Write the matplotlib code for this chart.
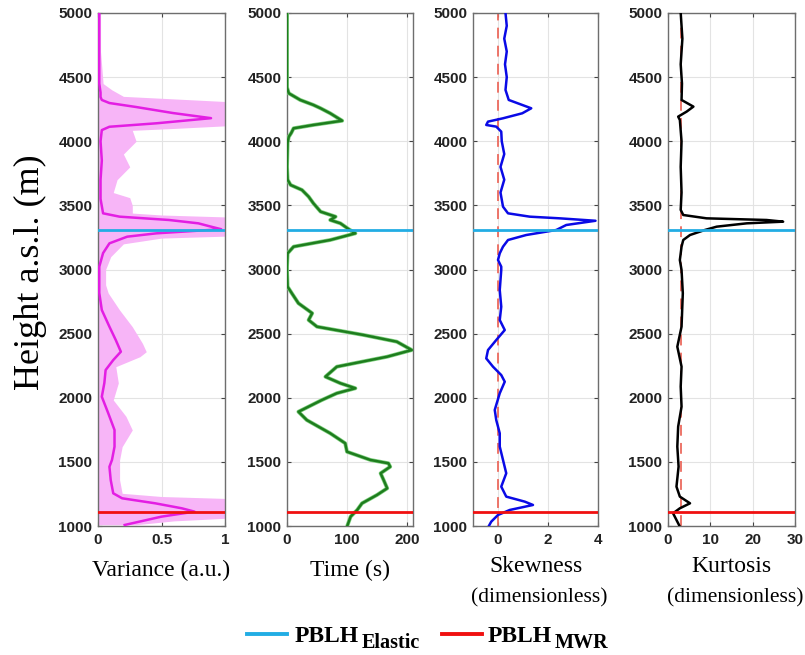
import matplotlib
matplotlib.use("Agg")
import matplotlib.pyplot as plt
from matplotlib.lines import Line2D

# ---------------- data ----------------
pblh_elastic = 3310
pblh_mwr = 1110

var_h = [5000, 4800, 4600, 4450, 4380, 4345, 4322, 4298, 4267, 4220, 4180, 4140, 4113, 4087, 4000,
         3850, 3700, 3550, 3438, 3412, 3386, 3360, 3334, 3314, 3282, 3256, 3204, 3128, 3022, 2900,
         2817, 2684, 2554, 2450, 2359, 2294, 2216, 2115, 2008, 1881, 1749, 1618, 1515, 1462, 1359,
         1255, 1216, 1177, 1138, 1112, 1073, 1008]
var_v = [0.01, 0.01, 0.01, 0.01, 0.02, 0.02, 0.03, 0.09, 0.30, 0.59, 0.89, 0.46, 0.09, 0.03, 0.02,
         0.03, 0.02, 0.02, 0.04, 0.17, 0.56, 0.79, 0.89, 0.97, 0.46, 0.23, 0.09, 0.04, 0.01, 0.01,
         0.01, 0.03, 0.09, 0.14, 0.18, 0.12, 0.06, 0.05, 0.03, 0.08, 0.13, 0.13, 0.11, 0.09, 0.10,
         0.12, 0.19, 0.45, 0.66, 0.76, 0.50, 0.21]

band_h = [5000, 4700, 4450, 4400, 4350, 4330, 4310, 4120, 4100, 4085, 4000, 3900, 3800, 3700, 3600,
          3560, 3500, 3440, 3425, 3410, 3260, 3245, 3200, 3100, 3000, 2880, 2817, 2684, 2554, 2424,
          2359, 2320, 2242, 2115, 1983, 1855, 1749, 1618, 1515, 1360, 1255, 1230, 1215, 1060, 1040, 1010]
band_u = [0.02, 0.02, 0.04, 0.11, 0.20, 0.60, 1.00, 1.00, 0.60, 0.27, 0.30, 0.20, 0.25, 0.15, 0.12,
          0.25, 0.27, 0.27, 0.50, 1.00, 1.00, 0.50, 0.20, 0.10, 0.06, 0.06, 0.08, 0.17, 0.27, 0.35,
          0.38, 0.33, 0.14, 0.16, 0.12, 0.22, 0.27, 0.19, 0.17, 0.17, 0.19, 0.50, 1.00, 1.00, 0.60, 0.30]

time_h = [5000, 4420, 4374, 4322, 4283, 4257, 4218, 4160, 4127, 4101, 4064, 4035, 3990, 3800, 3700,
          3659, 3620, 3568, 3516, 3451, 3412, 3386, 3360, 3314, 3282, 3230, 3178, 3126, 3022, 2996,
          2866, 2815, 2737, 2659, 2606, 2554, 2489, 2437, 2372, 2320, 2242, 2164, 2113, 2074, 2035,
          1982, 1891, 1826, 1723, 1645, 1579, 1515, 1489, 1462, 1411, 1359, 1294, 1242, 1177, 1125,
          1073, 995]
time_v = [0, 0, 3, 22, 44, 56, 72, 92, 44, 11, 7, 3, 1, 0, 1,
          6, 25, 36, 44, 56, 81, 72, 89, 103, 114, 72, 11, 1, 0, 0,
          1, 8, 19, 42, 36, 50, 128, 183, 208, 167, 83, 64, 89, 114, 83,
          58, 19, 33, 72, 97, 100, 139, 169, 172, 156, 161, 167, 150, 125, 117,
          106, 100]

skew_h = [5000, 4900, 4800, 4700, 4600, 4500, 4400, 4322, 4283, 4257, 4218, 4179, 4153, 4127, 4114,
          4075, 4000, 3900, 3800, 3700, 3600, 3490, 3438, 3412, 3399, 3380, 3347, 3308, 3269, 3230,
          3178, 3126, 3074, 3022, 2996, 2840, 2710, 2606, 2528, 2450, 2372, 2307, 2242, 2177, 2125,
          2035, 1905, 1826, 1723, 1619, 1515, 1411, 1307, 1229, 1190, 1164, 1125, 1086, 1034, 995]
skew_v = [0.30, 0.35, 0.25, 0.35, 0.28, 0.35, 0.30, 0.43, 0.97, 1.33, 0.97, 0.20, -0.40, -0.47, -0.07,
          0.13, 0.15, 0.25, 0.10, 0.25, 0.10, 0.20, 0.40, 1.27, 2.47, 3.90, 2.73, 2.33, 1.13, 0.40,
          0.20, 0.07, 0.00, 0.13, 0.13, 0.07, 0.13, 0.07, 0.27, -0.07, -0.40, -0.47, -0.20, 0.13, 0.27,
          0.07, -0.13, -0.07, 0.07, 0.07, 0.20, 0.33, 0.13, 0.33, 1.07, 1.40, 0.47, 0.00, -0.27, -0.38]

kurt_h = [5000, 4800, 4600, 4450, 4322, 4270, 4231, 4192, 4166, 4000, 3800, 3600, 3465, 3425, 3399,
          3386, 3373, 3360, 3334, 3308, 3269, 3230, 3178, 3074, 2996, 2815, 2554, 2398, 2243, 2087,
          1930, 1775, 1619, 1463, 1307, 1229, 1177, 1138, 1099, 1047, 995]
kurt_v = [3.0, 3.4, 3.0, 3.3, 3.2, 6.0, 4.4, 2.4, 2.8, 3.2, 3.0, 3.2, 3.0, 3.6, 9.1,
          23.3, 27.2, 18.6, 11.5, 8.7, 5.2, 3.6, 3.2, 2.8, 3.2, 3.5, 3.2, 2.2, 3.2, 3.0,
          3.2, 2.4, 2.2, 2.5, 2.0, 2.8, 5.2, 2.8, 1.2, 2.0, 2.8]

xlabels = ["Variance (a.u.)", "Time (s)", "Skewness", "Kurtosis"]
xsublabels = [None, None, "(dimensionless)", "(dimensionless)"]
xlims = [(0, 1), (0, 210), (-1, 4), (0, 30)]
xticks = [[0, 0.5, 1], [0, 100, 200], [0, 2, 4], [0, 10, 20, 30]]
xticklabels = [["0", "0.5", "1"], ["0", "100", "200"], ["0", "2", "4"], ["0", "10", "20", "30"]]
yticks = [1000, 1500, 2000, 2500, 3000, 3500, 4000, 4500, 5000]
ref_lines = [None, 0, 0, 3]
legend_main = ["PBLH", "PBLH"]
legend_sub = ["Elastic", "MWR"]

# ---------------- layout / style ----------------
W, H = 805, 655
fig = plt.figure(figsize=(W / 100, H / 100), dpi=100)
lefts = [98, 287, 473, 668]
rights = [225, 413, 598, 795]
top_px, bot_px = 13, 526


def fx(px):
    return px / W


def fy(py):
    return (H - py) / H


c_cyan = '#22ade4'
c_red = '#f01010'
colors = ['#e31ee3', '#1e7d1e', '#0a0ae6', '#000000']
series = [(var_v, var_h), (time_v, time_h), (skew_v, skew_h), (kurt_v, kurt_h)]
serif = 'Liberation Serif'

axes = []
for i in range(4):
    ax = fig.add_axes([fx(lefts[i]), fy(bot_px), (rights[i] - lefts[i]) / W, (bot_px - top_px) / H])
    axes.append(ax)
    ax.set_xlim(*xlims[i])
    ax.set_ylim(1000, 5000)
    ax.set_yticks(yticks)
    ax.set_yticklabels([str(t) for t in yticks])
    ax.set_xticks(xticks[i])
    ax.set_xticklabels(xticklabels[i])
    ax.grid(True, color='#e3e3e3', linewidth=0.8)
    ax.set_axisbelow(True)
    ax.tick_params(direction='in', length=3, width=0.8, color='#444444',
                   top=True, right=True, labelsize=11, pad=4)
    ax.tick_params(axis='x', pad=5)
    for lab in ax.get_xticklabels() + ax.get_yticklabels():
        lab.set_fontfamily('Liberation Sans')
        lab.set_fontweight('bold')
        lab.set_color('#222222')
    for sp in ax.spines.values():
        sp.set_color('#6e6e6e')
        sp.set_linewidth(1.0)

    if i == 0:
        ax.fill_betweenx(band_h, 0, band_u, color='#f7b5f7', linewidth=0, zorder=1)
    if ref_lines[i] is not None:
        ax.axvline(ref_lines[i], color='#ec6a5e', linestyle=(0, (6, 4)), linewidth=1.3, zorder=2)
    xv, yv = series[i]
    if i == 1:
        ax.plot(xv, yv, color='#7fd07f', linewidth=2.8, zorder=3, solid_joinstyle='round')
    ax.plot(xv, yv, color=colors[i], linewidth=1.8, zorder=4, solid_joinstyle='round')
    ax.axhline(pblh_elastic, color=c_cyan, linewidth=2.0, zorder=5)
    ax.axhline(pblh_mwr, color=c_red, linewidth=2.0, zorder=5)

    cx = (lefts[i] + rights[i]) / 2
    if xsublabels[i] is None:
        fig.text(fx(cx), fy(570), xlabels[i], fontfamily=serif, fontsize=17, ha='center', va='center')
    else:
        fig.text(fx(cx), fy(567), xlabels[i], fontfamily=serif, fontsize=17, ha='center', va='center')
        fig.text(fx(cx + 4), fy(598), xsublabels[i], fontfamily=serif, fontsize=15.5,
                 ha='center', va='center')

fig.text(fx(30), fy(272), "Height a.s.l. (m)", fontfamily=serif, fontsize=26,
         rotation=90, ha='center', va='center')

# legend (drawn manually to reproduce the large subscripts)
leg_colors = [c_cyan, c_red]
line_x = [(247, 287), (442, 482)]
main_x = [295, 488]
sub_x = [362, 555]
for k in range(2):
    fig.add_artist(Line2D([fx(line_x[k][0]), fx(line_x[k][1])], [fy(634), fy(634)],
                          color=leg_colors[k], linewidth=2.8, transform=fig.transFigure))
    fig.text(fx(main_x[k]), fy(642), legend_main[k], fontfamily=serif, fontweight='bold',
             fontsize=17, ha='left', va='baseline')
    fig.text(fx(sub_x[k]), fy(648), legend_sub[k], fontfamily=serif, fontweight='bold',
             fontsize=14.5, ha='left', va='baseline')

fig.savefig("out.png", dpi=100)
